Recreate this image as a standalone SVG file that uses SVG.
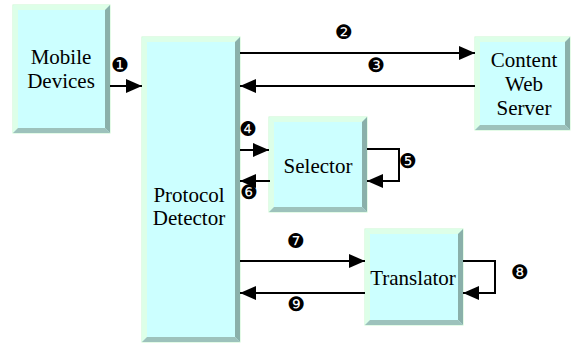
<svg xmlns="http://www.w3.org/2000/svg" width="571" height="344" viewBox="0 0 571 344">
<defs>
<style>
.base{fill:#CCFFFF;stroke:#C8F8D0;stroke-width:1}
.lt{fill:#DDFFE8}
.dk{fill:#8AB0AA}
.bt{fill:#9DC2BC}
.lbl{font-family:'Liberation Serif','Times New Roman',serif;font-size:21px;fill:#000;text-anchor:middle}
.num{font-family:'DejaVu Sans',sans-serif;font-size:20px;fill:#000;text-anchor:middle;dominant-baseline:central}
.ln{fill:none;stroke:#000;stroke-width:2}
</style>
<marker id="ah" markerUnits="userSpaceOnUse" markerWidth="16" markerHeight="14" refX="16" refY="7" orient="auto">
<path d="M0,0 L16,7 L0,14 z" fill="#000"/>
</marker>
</defs>
<rect width="571" height="344" fill="#fff"/>
<g id="mobile">
<rect class="base" x="13" y="5" width="97" height="128"/>
<polygon class="lt" points="13,5 110,5 105,10 18,10"/>
<polygon class="lt" points="13,5 18,10 18,128 13,133"/>
<polygon class="dk" points="110,5 110,133 105,128 105,10"/>
<polygon class="bt" points="13,133 110,133 105,128 18,128"/>
<text class="lbl" x="61" y="64">Mobile</text>
<text class="lbl" x="61" y="88">Devices</text>
</g>
<g id="protocol">
<rect class="base" x="142" y="37" width="98" height="305"/>
<polygon class="lt" points="142,37 240,37 235,42 147,42"/>
<polygon class="lt" points="142,37 147,42 147,337 142,342"/>
<polygon class="dk" points="240,37 240,342 235,337 235,42"/>
<polygon class="bt" points="142,342 240,342 235,337 147,337"/>
<text class="lbl" x="189" y="202">Protocol</text>
<text class="lbl" x="189" y="225">Detector</text>
</g>
<g id="content">
<rect class="base" x="475" y="37" width="95" height="93"/>
<polygon class="lt" points="475,37 570,37 565,42 480,42"/>
<polygon class="lt" points="475,37 480,42 480,125 475,130"/>
<polygon class="dk" points="570,37 570,130 565,125 565,42"/>
<polygon class="bt" points="475,130 570,130 565,125 480,125"/>
<text class="lbl" x="524" y="67">Content</text>
<text class="lbl" x="524" y="91">Web</text>
<text class="lbl" x="524" y="115">Server</text>
</g>
<g id="selector">
<rect class="base" x="269" y="117" width="98" height="95"/>
<polygon class="lt" points="269,117 367,117 362,122 274,122"/>
<polygon class="lt" points="269,117 274,122 274,207 269,212"/>
<polygon class="dk" points="367,117 367,212 362,207 362,122"/>
<polygon class="bt" points="269,212 367,212 362,207 274,207"/>
<text class="lbl" x="318" y="173">Selector</text>
</g>
<g id="translator">
<rect class="base" x="365" y="229" width="98" height="96"/>
<polygon class="lt" points="365,229 463,229 458,234 370,234"/>
<polygon class="lt" points="365,229 370,234 370,320 365,325"/>
<polygon class="dk" points="463,229 463,325 458,320 458,234"/>
<polygon class="bt" points="365,325 463,325 458,320 370,320"/>
<text class="lbl" x="413" y="285">Translator</text>
</g>
<g id="connectors">
<line class="ln" x1="110" y1="86" x2="142" y2="86" marker-end="url(#ah)"/>
<line class="ln" x1="240" y1="53" x2="475" y2="53" marker-end="url(#ah)"/>
<line class="ln" x1="475" y1="86" x2="240" y2="86" marker-end="url(#ah)"/>
<line class="ln" x1="240" y1="150" x2="269" y2="150" marker-end="url(#ah)"/>
<polyline class="ln" points="367,149 399,149 399,181 367,181" marker-end="url(#ah)"/>
<line class="ln" x1="270" y1="181" x2="240" y2="181" marker-end="url(#ah)"/>
<line class="ln" x1="240" y1="261" x2="365" y2="261" marker-end="url(#ah)"/>
<polyline class="ln" points="463,261 495,261 495,293 463,293" marker-end="url(#ah)"/>
<line class="ln" x1="365" y1="293" x2="240" y2="293" marker-end="url(#ah)"/>
</g>
<g id="labels">
<text class="num" x="120" y="65">❶</text>
<text class="num" x="344" y="32">❷</text>
<text class="num" x="376" y="65">❸</text>
<text class="num" x="248" y="129">❹</text>
<text class="num" x="408" y="161">❺</text>
<text class="num" x="249" y="192">❻</text>
<text class="num" x="296" y="241">❼</text>
<text class="num" x="520" y="272">❽</text>
<text class="num" x="296" y="304">❾</text>
</g>
</svg>
